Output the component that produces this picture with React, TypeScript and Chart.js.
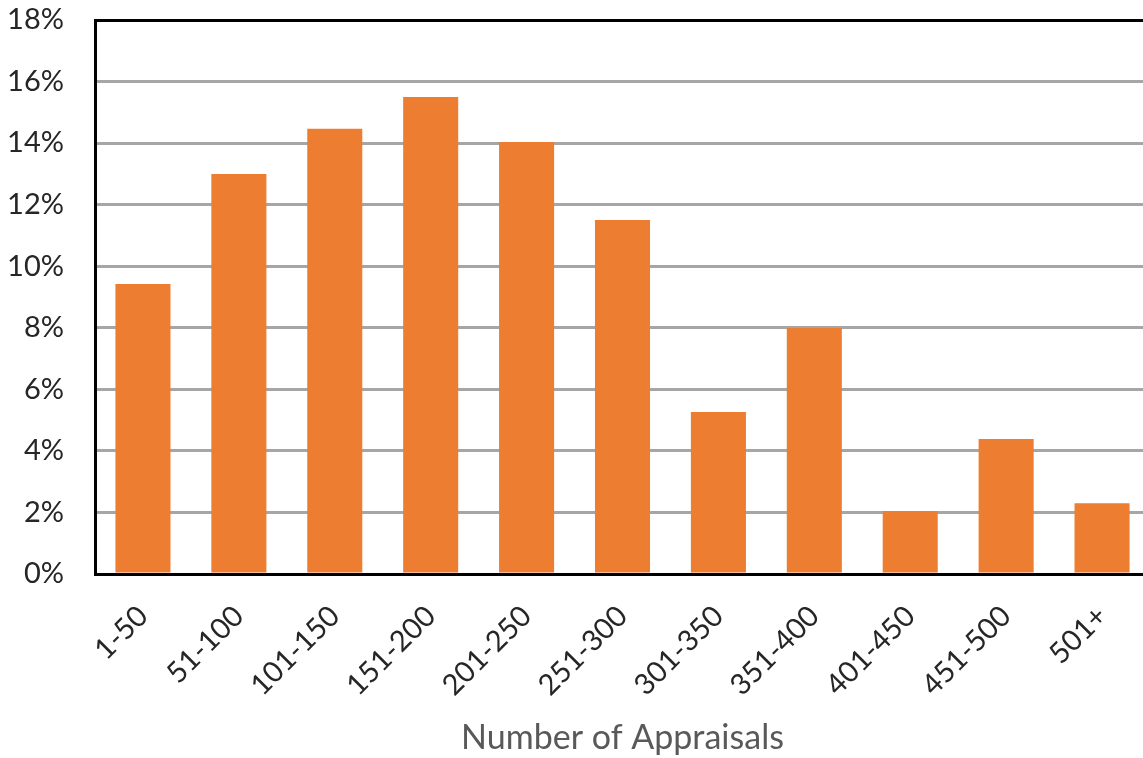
import React, { useEffect, useRef } from "react";
import { Chart, registerables } from "chart.js";

Chart.register(...registerables);

const categories = ["1-50", "51-100", "101-150", "151-200", "201-250", "251-300", "301-350", "351-400", "401-450", "451-500", "501+"];
const shares = [9.42, 13.0, 14.47, 15.5, 14.04, 11.5, 5.26, 7.99, 2.05, 4.39, 2.3];
const yTicks = [0, 2, 4, 6, 8, 10, 12, 14, 16, 18];
const xTitle = "Number of Appraisals";

const FONT = "Lato, 'Open Sans', sans-serif";

export default function App() {
  const ref = useRef<HTMLCanvasElement | null>(null);
  useEffect(() => {
    if (!ref.current) return;
    const chart = new Chart(ref.current, {
      type: "bar",
      data: {
        labels: categories,
        datasets: [
          {
            data: shares,
            backgroundColor: "#ED7D31",
            borderWidth: 0,
            barPercentage: 0.574,
            categoryPercentage: 1,
          },
        ],
      },
      options: {
        responsive: false,
        animation: false,
        devicePixelRatio: 1,
        layout: { padding: { top: 20, right: 2, left: 0, bottom: 0 } },
        plugins: { legend: { display: false }, tooltip: { enabled: false } },
        scales: {
          x: {
            grid: { display: false, drawTicks: false },
            border: { display: true, color: "#000000", width: 3 },
            ticks: {
              color: "#262626",
              font: { family: FONT, size: 29 },
              maxRotation: 45,
              minRotation: 45,
              padding: 25,
            },
            title: {
              display: true,
              text: xTitle,
              color: "#595959",
              font: { family: FONT, size: 34 },
              padding: { top: 0, bottom: 0 },
            },
            afterFit: (scale: any) => {
              scale.height = 184;
              scale.paddingLeft = 0;
              scale.paddingRight = 0;
            },
          },
          y: {
            min: 0,
            max: 18,
            afterBuildTicks: (scale: any) => {
              scale.ticks = yTicks.map((v) => ({ value: v }));
            },
            grid: {
              drawTicks: false,
              lineWidth: 3,
              color: (ctx: any) => (ctx.tick && ctx.tick.value === 18 ? "#000000" : "#A6A6A6"),
            },
            border: { display: true, color: "#000000", width: 3 },
            ticks: {
              color: "#262626",
              font: { family: FONT, size: 29 },
              padding: 31,
              callback: (v: any) => `${v}%`,
            },
            afterFit: (scale: any) => {
              scale.width = 95;
              scale.paddingTop = 0;
              scale.paddingBottom = 0;
            },
          },
        },
      },
    });
    return () => chart.destroy();
  }, []);
  return (
    <div style={{ position: "fixed", left: 0, top: 0, width: 1143, height: 758, overflow: "hidden", background: "#ffffff" }}>
      <canvas ref={ref} width={1152} height={758} style={{ display: "block" }} />
    </div>
  );
}
